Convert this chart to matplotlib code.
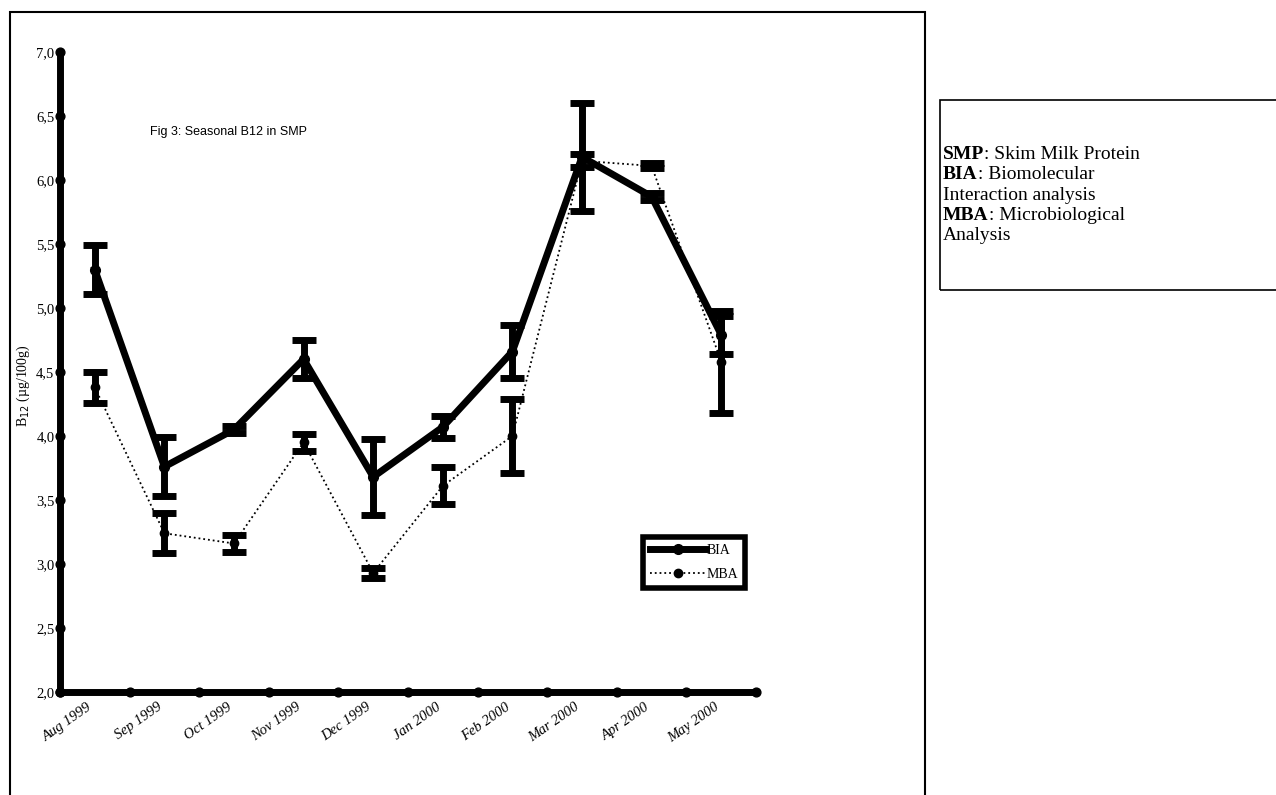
import matplotlib.pyplot as plt
from matplotlib.patches import Rectangle
from matplotlib.ticker import FuncFormatter
import numpy as np

months = ['Aug 1999', 'Sep 1999', 'Oct 1999', 'Nov 1999', 'Dec 1999',
          'Jan 2000', 'Feb 2000', 'Mar 2000', 'Apr 2000', 'May 2000']

bia = [5.30, 3.76, 4.05, 4.60, 3.68, 4.07, 4.66, 6.18, 5.87, 4.79]
bia_err = [0.19, 0.23, 0.03, 0.15, 0.30, 0.085, 0.21, 0.42, 0.03, 0.15]

mba = [4.38, 3.24, 3.16, 3.95, 2.93, 3.61, 4.00, 6.15, 6.11, 4.58]
mba_err = [0.12, 0.155, 0.07, 0.065, 0.04, 0.145, 0.29, 0.05, 0.02, 0.40]

serif = 'Liberation Serif'

fig = plt.figure(figsize=(12.76, 7.95), dpi=100)

# frame round the chart and the notes box
fig.patches.append(Rectangle((10 / 1276, -0.01), 915 / 1276, 0.995, transform=fig.transFigure,
                             fill=False, lw=1.5, ec='black'))
fig.patches.append(Rectangle((940 / 1276, 0.635), 340 / 1276, 0.239, transform=fig.transFigure,
                             fill=False, lw=1.2, ec='black'))

ax = fig.add_axes([0.047, 0.1296, 0.5455, 0.805])
x = np.arange(len(months))

ax.errorbar(x, bia, yerr=bia_err, fmt='none', ecolor='black', elinewidth=5,
            capsize=8.5, capthick=5, zorder=3)
ax.errorbar(x, mba, yerr=mba_err, fmt='none', ecolor='black', elinewidth=5,
            capsize=8.5, capthick=5, zorder=3)
ax.plot(x, bia, color='black', lw=5, marker='o', ms=7, solid_joinstyle='round', label='BIA', zorder=4)
ax.plot(x, mba, color='black', lw=1.3, ls=':', marker='o', ms=6, label='MBA', zorder=4)

ax.set_xlim(-0.5, len(months) - 0.5)
ax.set_ylim(2.0, 7.0)
yt = np.arange(2.0, 7.01, 0.5)
ax.set_yticks(yt)
ax.yaxis.set_major_formatter(FuncFormatter(lambda v, p: f'{v:.1f}'.replace('.', ',')))
ax.set_xticks(x)
ax.set_xticklabels(months, rotation=35, ha='right', va='top', fontstyle='italic',
                   family=serif, fontsize=10.5)
ax.tick_params(axis='x', length=0, pad=6)
ax.tick_params(axis='y', length=0, pad=4, labelsize=10.5)
for t in ax.get_yticklabels():
    t.set_family(serif)

for s in ['top', 'right']:
    ax.spines[s].set_visible(False)
for s in ['left', 'bottom']:
    ax.spines[s].set_linewidth(5)
    ax.spines[s].set_capstyle('round')

# round tick dots on both axes
xb = np.arange(-0.5, len(months) + 0.5, 1.0)
ax.scatter(xb, np.zeros_like(xb), s=40, color='black', transform=ax.get_xaxis_transform(),
           clip_on=False, zorder=5)
ax.scatter(np.zeros_like(yt), yt, s=40, color='black', transform=ax.get_yaxis_transform(),
           clip_on=False, zorder=5)

ax.text(0.13, 0.87, 'Fig 3: Seasonal B12 in SMP', transform=ax.transAxes,
        family='Liberation Sans', fontsize=9)

fig.text(23 / 1276, 0.515, 'B$_{12}$ (µg/100g)', rotation=90, ha='center', va='center',
         family=serif, fontsize=10)

leg = ax.legend(loc='upper left', bbox_to_anchor=(643 / 1276, 258 / 795),
                bbox_transform=fig.transFigure, prop={'family': serif, 'size': 10},
                handlelength=4.0, handletextpad=0.1, borderpad=0.5, labelspacing=0.8,
                borderaxespad=0, fancybox=False, numpoints=1, framealpha=1)
leg.get_frame().set_linewidth(4)
leg.get_frame().set_edgecolor('black')

notes = [('SMP', ': Skim Milk Protein'), ('BIA', ': Biomolecular'), (None, 'Interaction analysis'),
         ('MBA', ': Microbiological'), (None, 'Analysis')]
y0 = 0.80
for head, rest in notes:
    if head:
        t = fig.text(943 / 1276, y0, head, family=serif, fontsize=14, fontweight='bold')
        fig.add_artist(plt.Annotation(rest, xy=(1, 0), xycoords=t, family=serif, fontsize=14,
                                      va='bottom'))
    else:
        fig.text(943 / 1276, y0, rest, family=serif, fontsize=14)
    y0 -= 0.0256

fig.savefig('out.png', dpi=100)
